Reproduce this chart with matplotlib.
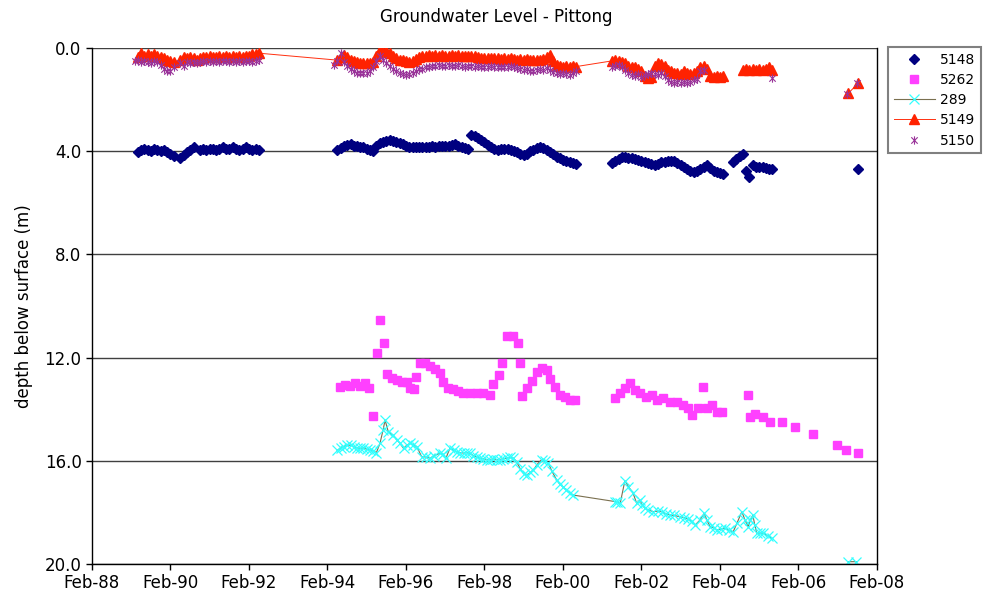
import numpy as np
import matplotlib
matplotlib.use("Agg")
import matplotlib.pyplot as plt
from matplotlib.path import Path

nan = np.nan

# decimal years on x, depth below surface (m) on y
tick_years = [1988.083 + 2 * i for i in range(11)]
tick_labels = ['Feb-88', 'Feb-90', 'Feb-92', 'Feb-94', 'Feb-96', 'Feb-98',
               'Feb-00', 'Feb-02', 'Feb-04', 'Feb-06', 'Feb-08']

# bore 5148
yr_5148 = [1989.25, 1989.33, 1989.42, 1989.5, 1989.58, 1989.67, 1989.75, 1989.83, 1989.92, 1990.0, 1990.08, 1990.17,
           1990.33, 1990.42, 1990.5, 1990.58, 1990.67, 1990.83, 1990.92, 1991.0, 1991.08, 1991.17, 1991.25, 1991.33,
           1991.42, 1991.5, 1991.58, 1991.67, 1991.75, 1991.83, 1991.92, 1992.0, 1992.08, 1992.17, 1992.25, 1992.33,
           1994.33, 1994.42, 1994.5, 1994.58, 1994.67, 1994.75, 1994.83, 1994.92, 1995.0, 1995.08, 1995.17, 1995.25,
           1995.33, 1995.42, 1995.5, 1995.58, 1995.67, 1995.75, 1995.83, 1995.92, 1996.0, 1996.08, 1996.17, 1996.25,
           1996.33, 1996.42, 1996.5, 1996.58, 1996.67, 1996.75, 1996.83, 1996.92, 1997.0, 1997.08, 1997.17, 1997.25,
           1997.33, 1997.42, 1997.5, 1997.58, 1997.67, 1997.75, 1997.83, 1997.92, 1998.0, 1998.08, 1998.17, 1998.25,
           1998.33, 1998.42, 1998.5, 1998.58, 1998.67, 1998.75, 1998.83, 1998.92, 1999.0, 1999.08, 1999.17, 1999.25,
           1999.33, 1999.42, 1999.5, 1999.58, 1999.67, 1999.75, 1999.83, 1999.92, 2000.0, 2000.08, 2000.17, 2000.25,
           2000.33, 2000.42,
           2001.33, 2001.42, 2001.5, 2001.58, 2001.67, 2001.75, 2001.83, 2001.92, 2002.0, 2002.08, 2002.17, 2002.25,
           2002.33, 2002.42, 2002.5, 2002.58, 2002.67, 2002.75, 2002.83, 2002.92, 2003.0, 2003.08, 2003.17, 2003.25,
           2003.33, 2003.42, 2003.5, 2003.58, 2003.67, 2003.75, 2003.83, 2003.92, 2004.0, 2004.08, 2004.17,
           2004.42, 2004.5, 2004.58, 2004.67, 2004.75, 2004.83, 2004.92, 2005.0, 2005.08, 2005.17, 2005.25, 2005.33,
           2005.42, 2007.6]
d_5148 = [4.05, 3.95, 3.9, 3.95, 4.0, 3.9, 3.95, 4.0, 3.95, 4.05, 4.1, 4.2,
          4.25, 4.15, 4.05, 3.95, 3.85, 3.95, 3.9, 3.95, 3.9, 3.9, 3.95, 3.9,
          3.85, 3.9, 3.9, 3.85, 3.9, 3.95, 3.9, 3.85, 3.9, 3.95, 3.9, 3.95,
          3.95, 3.88, 3.8, 3.75, 3.73, 3.78, 3.8, 3.82, 3.85, 3.9, 3.95, 3.99,
          3.8, 3.69, 3.65, 3.6, 3.57, 3.6, 3.65, 3.69, 3.73, 3.78, 3.82, 3.83,
          3.85, 3.83, 3.85, 3.83, 3.82, 3.8, 3.82, 3.8, 3.78, 3.8, 3.78, 3.75,
          3.73, 3.78, 3.82, 3.86, 3.9, 3.37, 3.42, 3.5, 3.57, 3.65, 3.75, 3.85,
          3.92, 3.95, 3.93, 3.9, 3.9, 3.95, 4.0, 4.05, 4.1, 4.15, 4.12, 4.0,
          3.95, 3.88, 3.82, 3.88, 3.95, 4.02, 4.12, 4.22, 4.28, 4.33, 4.38, 4.41,
          4.46, 4.51,
          4.47, 4.38, 4.3, 4.22, 4.22, 4.26, 4.28, 4.3, 4.33, 4.38, 4.41, 4.45,
          4.5, 4.53, 4.48, 4.43, 4.4, 4.38, 4.37, 4.38, 4.45, 4.55, 4.62, 4.68,
          4.75, 4.79, 4.75, 4.7, 4.63, 4.55, 4.65, 4.75, 4.8, 4.85, 4.88,
          4.41, 4.3, 4.2, 4.12, 4.75, 5.0, 4.55, 4.6, 4.62, 4.6, 4.65, 4.68,
          4.7, 4.7]

# bore 5262
yr_5262 = [1994.4, 1994.53, 1994.66, 1994.78, 1994.91, 1995.04, 1995.15, 1995.23, 1995.34, 1995.42, 1995.52, 1995.59,
           1995.72, 1995.85, 1995.97, 1996.1, 1996.19, 1996.29, 1996.34, 1996.44, 1996.57, 1996.7, 1996.82, 1996.95,
           1997.03, 1997.16, 1997.29, 1997.42, 1997.54, 1997.71, 1997.88, 1998.05, 1998.22, 1998.31, 1998.44, 1998.54,
           1998.65, 1998.8, 1998.93, 1999.0, 1999.05, 1999.16, 1999.29, 1999.41, 1999.54, 1999.67, 1999.75, 1999.88,
           2000.01, 2000.13, 2000.26, 2000.39,
           2001.41, 2001.54, 2001.66, 2001.79, 2001.92, 2002.04, 2002.21, 2002.34, 2002.47, 2002.64, 2002.81, 2002.98,
           2003.15, 2003.28, 2003.36, 2003.53, 2003.66, 2003.74, 2003.87, 2004.0, 2004.13, 2004.79, 2004.85, 2004.98,
           2005.19, 2005.36, 2005.66, 2006.0, 2006.45, 2007.06, 2007.3, 2007.59]
d_5262 = [13.13, 13.06, 13.1, 12.97, 13.1, 13.0, 13.19, 14.26, 11.83, 10.54, 11.45, 12.64,
          12.8, 12.87, 12.93, 12.93, 13.19, 13.23, 12.74, 12.22, 12.22, 12.33, 12.45, 12.61,
          12.93, 13.19, 13.23, 13.28, 13.36, 13.39, 13.39, 13.39, 13.45, 13.02, 12.67, 12.2,
          11.16, 11.16, 11.45, 12.2, 13.49, 13.19, 12.9, 12.55, 12.42, 12.48, 12.84, 13.15,
          13.45, 13.54, 13.64, 13.64,
          13.58, 13.39, 13.19, 13.0, 13.26, 13.39, 13.51, 13.45, 13.64, 13.58, 13.71, 13.71,
          13.84, 13.97, 14.22, 13.97, 13.13, 13.97, 13.84, 14.1, 14.1, 13.45, 14.29, 14.19,
          14.29, 14.48, 14.48, 14.68, 14.96, 15.39, 15.58, 15.71]

# bore 289
yr_289 = [1994.33, 1994.42, 1994.5, 1994.58, 1994.67, 1994.75, 1994.83, 1994.92, 1995.0, 1995.08, 1995.17, 1995.25,
          1995.33, 1995.42, 1995.5, 1995.55, 1995.63, 1995.75, 1995.85, 1995.92, 1996.02, 1996.1, 1996.19, 1996.27,
          1996.36, 1996.48, 1996.58, 1996.7, 1996.8, 1996.95, 1997.03, 1997.1, 1997.2, 1997.3, 1997.38, 1997.46,
          1997.55, 1997.63, 1997.71, 1997.8, 1997.88, 1997.97, 1998.05, 1998.14, 1998.22, 1998.31, 1998.39, 1998.48,
          1998.56, 1998.65, 1998.73, 1998.82, 1998.9, 1998.99, 1999.08, 1999.16, 1999.25, 1999.33, 1999.42, 1999.54,
          1999.62, 1999.71, 1999.8, 1999.92, 2000.0, 2000.08, 2000.17, 2000.26, 2000.35,
          2001.41, 2001.47, 2001.54, 2001.66, 2001.75, 2001.87, 2001.96, 2002.04, 2002.1, 2002.17, 2002.25, 2002.38,
          2002.5, 2002.6, 2002.7, 2002.81, 2002.92, 2003.06, 2003.17, 2003.28, 2003.36, 2003.45, 2003.57, 2003.68,
          2003.75, 2003.83, 2003.92, 2004.0, 2004.1, 2004.21, 2004.32, 2004.42, 2004.52, 2004.64, 2004.72, 2004.8,
          2004.86, 2004.92, 2004.97, 2005.02, 2005.1, 2005.19, 2005.3, 2005.4, 2006.0, 2007.35, 2007.56]
d_289 = [15.6, 15.5, 15.45, 15.4, 15.39, 15.45, 15.5, 15.52, 15.5, 15.55, 15.58, 15.62,
         15.68, 15.32, 14.8, 14.42, 14.87, 15.0, 15.19, 15.3, 15.52, 15.4, 15.32, 15.38,
         15.45, 15.84, 15.85, 15.9, 15.8, 15.71, 15.75, 15.9, 15.52, 15.6, 15.65, 15.68,
         15.7, 15.68, 15.71, 15.8, 15.85, 15.9, 15.92, 15.95, 15.95, 15.93, 15.95, 15.95,
         15.92, 15.9, 15.87, 15.9, 16.03, 16.3, 16.5, 16.55, 16.45, 16.36, 16.15, 15.95,
         16.0, 16.1, 16.4, 16.74, 16.9, 17.0, 17.13, 17.25, 17.33,
         17.58, 17.6, 17.65, 16.77, 17.0, 17.26, 17.65, 17.52, 17.7, 17.84, 17.9, 17.97,
         17.95, 17.97, 18.05, 18.1, 18.12, 18.17, 18.2, 18.27, 18.35, 18.49, 18.3, 18.04,
         18.3, 18.55, 18.6, 18.68, 18.65, 18.62, 18.7, 18.75, 18.4, 17.97, 18.3, 18.55,
         18.3, 18.1, 18.5, 18.81, 18.8, 18.81, 18.9, 19.0, nan, 19.91, 19.91]

# bore 5149
yr_5149 = [1989.25, 1989.33, 1989.42, 1989.5, 1989.58, 1989.67, 1989.75, 1989.83, 1989.92, 1990.0, 1990.08, 1990.17,
           1990.33, 1990.42, 1990.5, 1990.58, 1990.67, 1990.75, 1990.83, 1990.92, 1991.0, 1991.08, 1991.17, 1991.25,
           1991.33, 1991.42, 1991.5, 1991.58, 1991.67, 1991.75, 1991.83, 1991.92, 1992.0, 1992.08, 1992.17, 1992.25,
           1992.33,
           1994.33, 1994.42, 1994.5, 1994.58, 1994.67, 1994.75, 1994.83, 1994.92, 1995.0, 1995.08, 1995.17, 1995.25,
           1995.33, 1995.42, 1995.5, 1995.58, 1995.67, 1995.75, 1995.83, 1995.92, 1996.0, 1996.08, 1996.17, 1996.25,
           1996.33, 1996.42, 1996.5, 1996.58, 1996.67, 1996.75, 1996.83, 1996.92, 1997.0, 1997.08, 1997.17, 1997.25,
           1997.33, 1997.42, 1997.5, 1997.58, 1997.67, 1997.75, 1997.83, 1997.92, 1998.0, 1998.08, 1998.17, 1998.25,
           1998.33, 1998.42, 1998.5, 1998.58, 1998.67, 1998.75, 1998.83, 1998.92, 1999.0, 1999.08, 1999.17, 1999.25,
           1999.33, 1999.42, 1999.5, 1999.58, 1999.67, 1999.75, 1999.83, 1999.92, 2000.0, 2000.08, 2000.17, 2000.25,
           2000.33, 2000.42,
           2001.33, 2001.42, 2001.5, 2001.58, 2001.67, 2001.75, 2001.83, 2001.92, 2002.0, 2002.08, 2002.17, 2002.25,
           2002.33, 2002.42, 2002.5, 2002.58, 2002.67, 2002.75, 2002.83, 2002.92, 2003.0, 2003.08, 2003.17, 2003.25,
           2003.33, 2003.42, 2003.5, 2003.58, 2003.67, 2003.75, 2003.83, 2003.92, 2004.0, 2004.08, 2004.17,
           2004.4,
           2004.67, 2004.75, 2004.83, 2004.92, 2005.0, 2005.08, 2005.17, 2005.25, 2005.33, 2005.42,
           2006.5,
           2007.35, 2007.6]
d_5149 = [0.35, 0.2, 0.3, 0.25, 0.3, 0.25, 0.3, 0.35, 0.4, 0.45, 0.5, 0.55,
          0.45, 0.35, 0.4, 0.35, 0.4, 0.45, 0.4, 0.35, 0.35, 0.3, 0.35, 0.35,
          0.3, 0.35, 0.3, 0.35, 0.3, 0.35, 0.3, 0.35, 0.3, 0.3, 0.25, 0.25,
          0.2,
          0.47, 0.35, 0.27, 0.35, 0.45, 0.5, 0.55, 0.6, 0.6, 0.58, 0.6, 0.55,
          0.3, 0.08, 0.15, 0.12, 0.2, 0.3, 0.38, 0.45, 0.47, 0.5, 0.53, 0.5,
          0.42, 0.34, 0.3, 0.3, 0.28, 0.3, 0.28, 0.3, 0.28, 0.3, 0.3, 0.28,
          0.3, 0.28, 0.3, 0.3, 0.32, 0.3, 0.32, 0.35, 0.38, 0.4, 0.4, 0.38,
          0.4, 0.4, 0.42, 0.4, 0.42, 0.4, 0.42, 0.45, 0.42, 0.45, 0.42, 0.45,
          0.47, 0.45, 0.47, 0.42, 0.35, 0.27, 0.5, 0.66, 0.7, 0.72, 0.7, 0.72,
          0.68, 0.72,
          0.5, 0.45, 0.5, 0.55, 0.6, 0.7, 0.72, 0.75, 0.8, 0.9, 1.1, 1.15,
          1.12, 0.7, 0.6, 0.62, 0.7, 0.85, 0.9, 0.95, 0.95, 1.0, 0.9, 0.95,
          1.0, 0.95, 0.9, 0.75, 0.7, 0.8, 1.1, 1.12, 1.1, 1.12, 1.1,
          nan,
          0.85, 0.8, 0.85, 0.82, 0.85, 0.8, 0.85, 0.82, 0.75, 0.85,
          nan,
          1.76, 1.37]

# bore 5150
yr_5150 = [1989.17, 1989.25, 1989.33, 1989.42, 1989.5, 1989.58, 1989.67, 1989.75, 1989.83, 1989.92, 1990.0, 1990.08,
           1990.17, 1990.33, 1990.42, 1990.5, 1990.58, 1990.67, 1990.75, 1990.83, 1990.92, 1991.0, 1991.08, 1991.17,
           1991.25, 1991.33, 1991.42, 1991.5, 1991.58, 1991.67, 1991.75, 1991.83, 1991.92, 1992.0, 1992.08, 1992.17,
           1992.25, 1992.33,
           1994.25, 1994.33, 1994.42, 1994.5, 1994.58, 1994.67, 1994.75, 1994.83, 1994.92, 1995.0, 1995.08, 1995.17,
           1995.25, 1995.33, 1995.42, 1995.5, 1995.58, 1995.67, 1995.75, 1995.83, 1995.92, 1996.0, 1996.08, 1996.17,
           1996.25, 1996.33, 1996.42, 1996.5, 1996.58, 1996.67, 1996.75, 1996.83, 1996.92, 1997.0, 1997.08, 1997.17,
           1997.25, 1997.33, 1997.42, 1997.5, 1997.58, 1997.67, 1997.75, 1997.83, 1997.92, 1998.0, 1998.08, 1998.17,
           1998.25, 1998.33, 1998.42, 1998.5, 1998.58, 1998.67, 1998.75, 1998.83, 1998.92, 1999.0, 1999.08, 1999.17,
           1999.25, 1999.33, 1999.42, 1999.5, 1999.58, 1999.67, 1999.75, 1999.83, 1999.92, 2000.0, 2000.08, 2000.17,
           2000.25, 2000.33, 2000.42,
           2001.33, 2001.42, 2001.5, 2001.58, 2001.67, 2001.75, 2001.83, 2001.92, 2002.0, 2002.08, 2002.17, 2002.25,
           2002.33, 2002.42, 2002.5, 2002.58, 2002.67, 2002.75, 2002.83, 2002.92, 2003.0, 2003.08, 2003.17, 2003.25,
           2003.33, 2003.42, 2003.5, 2003.58, 2003.67,
           2005.42, 2007.33, 2007.58]
d_5150 = [0.5, 0.45, 0.55, 0.5, 0.55, 0.6, 0.5, 0.55, 0.65, 0.8, 0.88, 0.9,
          0.75, 0.6, 0.7, 0.55, 0.6, 0.55, 0.6, 0.55, 0.5, 0.55, 0.5, 0.55,
          0.5, 0.55, 0.5, 0.5, 0.55, 0.5, 0.55, 0.5, 0.55, 0.5, 0.5, 0.55,
          0.5, 0.45,
          0.65, 0.5, 0.2, 0.55, 0.7, 0.8, 0.9, 0.95, 0.98, 0.95, 0.98, 0.9,
          0.75, 0.5, 0.3, 0.45, 0.6, 0.7, 0.8, 0.9, 0.95, 1.0, 1.05, 1.02,
          0.98, 0.88, 0.82, 0.8, 0.75, 0.72, 0.7, 0.68, 0.66, 0.7, 0.68, 0.66,
          0.7, 0.68, 0.66, 0.7, 0.72, 0.68, 0.7, 0.72, 0.7, 0.72, 0.75, 0.72,
          0.7, 0.72, 0.75, 0.72, 0.75, 0.72, 0.7, 0.75, 0.78, 0.8, 0.85, 0.82,
          0.88, 0.9, 0.85, 0.8, 0.85, 0.78, 0.85, 0.92, 0.98, 1.02, 0.95, 1.0,
          1.05, 0.95, 0.9,
          0.75, 0.7, 0.65, 0.75, 0.85, 0.95, 1.05, 1.1, 1.0, 1.12, 1.05, 1.0,
          0.95, 1.0, 1.05, 0.98, 1.1, 1.25, 1.3, 1.35, 1.32, 1.37, 1.3, 1.35,
          1.3, 1.25, 1.2, 0.9, 0.85,
          1.17, 1.8, 1.37]

# excel style asterisk marker: an x with a vertical bar
star = Path([(-1, -1), (1, 1), (-1, 1), (1, -1), (0, -1.3), (0, 1.3)],
            [Path.MOVETO, Path.LINETO, Path.MOVETO, Path.LINETO, Path.MOVETO, Path.LINETO])

fig = plt.figure(figsize=(9.83, 6.0), dpi=100)
ax = fig.add_axes([92 / 983, 36 / 600, 785 / 983, 516 / 600])

ax.plot(yr_5148, d_5148, ls='none', marker='D', ms=5.5, color='#000080', mec='#000080', label='5148')
ax.plot(yr_5262, d_5262, ls='none', marker='s', ms=5.8, color='#FF40FF', mec='#FF40FF', label='5262')
ax.plot(yr_289, d_289, ls='-', lw=0.8, color='#7A7050', marker='x', ms=6.5, mew=0.9,
        mec='#33FFFF', label='289')
ax.plot(yr_5149, d_5149, ls='-', lw=0.7, color='#FF3010', marker='^', ms=6.8, mfc='#FF2200', mec='#FF2200',
        label='5149')
ax.plot(yr_5150, d_5150, ls='none', marker=star, ms=6, mew=0.8, color='#993399', label='5150')

ax.set_xlim(tick_years[0], tick_years[-1])
ax.set_ylim(20, 0)
ax.set_xticks(tick_years)
ax.set_xticklabels(tick_labels)
ax.set_yticks([0, 4, 8, 12, 16, 20])
ax.set_yticklabels(['0.0', '4.0', '8.0', '12.0', '16.0', '20.0'])
ax.tick_params(axis='both', direction='out', length=4, width=1, labelsize=12, colors='black')
ax.yaxis.grid(True, color='#404040', lw=1.0)
ax.set_axisbelow(True)
for side in ['left', 'right', 'bottom']:
    ax.spines[side].set_color('black')
    ax.spines[side].set_linewidth(1.0)
ax.spines['top'].set_visible(False)

ax.set_ylabel('depth below surface (m)', fontsize=12, labelpad=8)
fig.text(0.505, 1 - 17 / 600, 'Groundwater Level - Pittong', ha='center', va='center', fontsize=12)

leg = fig.legend(loc='upper left', bbox_to_anchor=(888 / 983, 1 - 47 / 600), fontsize=10,
                 frameon=True, fancybox=False, framealpha=1, edgecolor='#808080',
                 handlelength=3.0, handletextpad=0.35, labelspacing=0.45, borderpad=0.4,
                 borderaxespad=0)
leg.get_frame().set_linewidth(1.5)

fig.savefig('out.png', dpi=100)
